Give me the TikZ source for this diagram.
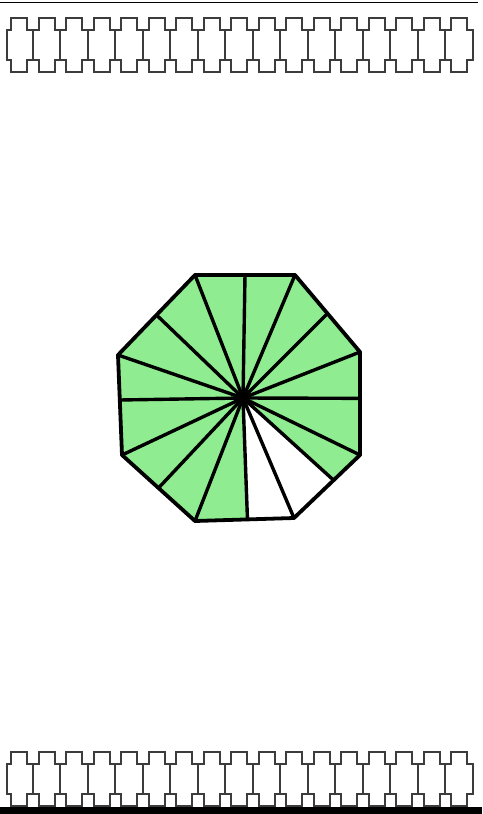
\documentclass[tikz,border=0pt]{standalone}
\usepackage{xcolor}
\usepackage{tikz}
\usetikzlibrary{calc}
\definecolor{leafgreen}{RGB}{144,236,144}
\definecolor{bandgray}{RGB}{60,60,60}

\begin{document}
\begin{tikzpicture}[x=1pt, y=-1pt,
  band/.style={draw=bandgray, line width=2pt, line join=miter},
  spoke/.style={draw=black, line width=3.4pt, line cap=round},
  rim/.style={draw=black, line width=3.8pt, line join=round}]
  \useasboundingbox (0,0) rectangle (482,814);
  \fill[white] (0,0) rectangle (482,814);
  % frame lines
  \draw[line width=1.6pt] (0,2.5) -- (478,2.5);
  \fill[black] (0,807) rectangle (482,814);
  % decorative bands
  \foreach \dy in {0,734} {
    \begin{scope}[shift={(0,\dy)}]
      \draw[band] (7,60) -- (7,30)
        \foreach \i in {0,...,16} {-- ({11+27.5*\i},30) -- ({11+27.5*\i},18)
          -- ({27+27.5*\i},18) -- ({27+27.5*\i},30)}
        -- (473,30) -- (473,60)
        \foreach \i in {16,15,...,0} {-- ({27+27.5*\i},60) -- ({27+27.5*\i},72)
          -- ({11+27.5*\i},72) -- ({11+27.5*\i},60)}
        -- cycle;
      \foreach \i in {0,...,15}
        \draw[band] ({32.75+27.5*\i},30) -- ({32.75+27.5*\i},60);
    \end{scope}
  }
  % octagon
  \coordinate (c) at (243,398);
  \coordinate (v1) at (195,275);
  \coordinate (v2) at (295,275);
  \coordinate (v3) at (360,352);
  \coordinate (v4) at (360,455);
  \coordinate (v5) at (294,518);
  \coordinate (v6) at (195,521);
  \coordinate (v7) at (122,455);
  \coordinate (v8) at (118,355);
  \coordinate (m1) at ($(v1)!0.5!(v2)$);
  \coordinate (m2) at ($(v2)!0.5!(v3)$);
  \coordinate (m3) at ($(v3)!0.45!(v4)$);
  \coordinate (m4) at ($(v4)!0.4!(v5)$);
  \coordinate (m5) at ($(v5)!0.47!(v6)$);
  \coordinate (m6) at ($(v6)!0.5!(v7)$);
  \coordinate (m7) at ($(v7)!0.55!(v8)$);
  \coordinate (m8) at ($(v8)!0.5!(v1)$);
  \fill[leafgreen] (v1) -- (v2) -- (v3) -- (v4) -- (v5) -- (v6) -- (v7) -- (v8) -- cycle;
  \fill[white] (c) -- (m4) -- (v5) -- (m5) -- cycle;
  \foreach \p in {v1,m1,v2,m2,v3,m3,v4,m4,v5,m5,v6,m6,v7,m7,v8,m8}
    \draw[spoke] (c) -- (\p);
  \draw[rim] (v1) -- (v2) -- (v3) -- (v4) -- (v5) -- (v6) -- (v7) -- (v8) -- cycle;
\end{tikzpicture}
\end{document}
